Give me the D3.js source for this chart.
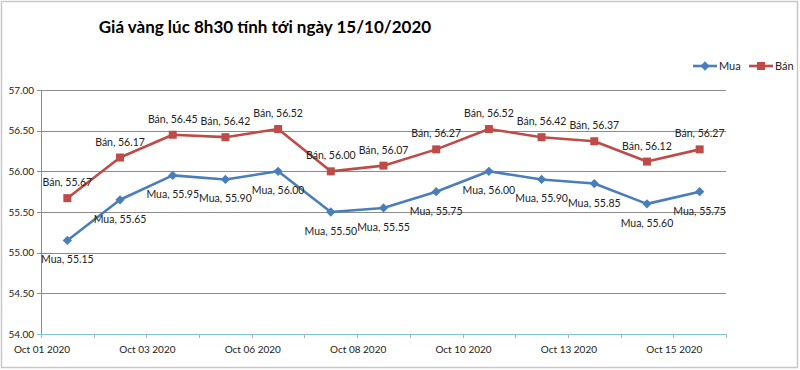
<!DOCTYPE html>
<html>
<head>
<meta charset="utf-8">
<script src="https://cdn.jsdelivr.net/npm/d3@7"></script>
<style>
	body { margin: 0; background: #fff; }
	text { font-family: Lato, "Open Sans", sans-serif; fill: #222; }
</style>
</head>
<body>
<svg class="svgWrapper" width="800" height="370"></svg>
<script>

// data
const dates = ['Oct 01 2020', 'Oct 02 2020', 'Oct 03 2020', 'Oct 05 2020', 'Oct 06 2020', 'Oct 07 2020',
	'Oct 08 2020', 'Oct 09 2020', 'Oct 10 2020', 'Oct 12 2020', 'Oct 13 2020', 'Oct 14 2020', 'Oct 15 2020'];
const muaVals = [55.15, 55.65, 55.95, 55.90, 56.00, 55.50, 55.55, 55.75, 56.00, 55.90, 55.85, 55.60, 55.75];
const banVals = [55.67, 56.17, 56.45, 56.42, 56.52, 56.00, 56.07, 56.27, 56.52, 56.42, 56.37, 56.12, 56.27];
const yTicks = [54, 54.5, 55, 55.5, 56, 56.5, 57];
const xLabelIdx = [0, 2, 4, 6, 8, 10, 12];
const seriesNames = ['Mua', 'Bán'];
const seriesColors = ['#4a7ebb', '#be4b48'];

const svgObj = d3.select('.svgWrapper');

const plotLeft = 41, plotRight = 726, plotTop = 90, plotBottom = 334;

const xScale = d3.scaleBand().domain(dates).range([plotLeft, plotRight]);
const yScale = d3.scaleLinear().domain([54, 57]).range([plotBottom, plotTop]);
const xMid = d => xScale(d) + xScale.bandwidth() / 2;

// frame
svgObj.append('rect')
	.attr('x', 1.5).attr('y', 1.5).attr('width', 796).attr('height', 366)
	.attr('fill', '#fff').attr('stroke', '#c8c8c8').attr('stroke-width', 1.5);

// title
svgObj.append('text')
	.attr('x', 265).attr('y', 33)
	.attr('text-anchor', 'middle')
	.attr('font-size', 17).attr('font-weight', 'bold')
	.style('fill', '#000')
	.text('Giá vàng lúc 8h30 tính tới ngày 15/10/2020');

// gridlines + y labels
const yAxisG = svgObj.append('g')
yAxisG.selectAll('line.grid').data(yTicks.filter(d => d > 54)).enter()
	.append('line')
	.attr('class', 'grid')
	.attr('x1', plotLeft - 4).attr('x2', plotRight)
	.attr('y1', d => Math.round(yScale(d)) + 0.5).attr('y2', d => Math.round(yScale(d)) + 0.5)
	.attr('stroke', '#8c8c8c').attr('stroke-width', 1);

yAxisG.selectAll('text').data(yTicks).enter()
	.append('text')
	.attr('x', 34).attr('y', d => yScale(d) + 3.5)
	.attr('text-anchor', 'end')
	.attr('font-size', 10)
	.text(d => d.toFixed(2));

// y axis line
svgObj.append('line')
	.attr('x1', plotLeft + 0.5).attr('x2', plotLeft + 0.5)
	.attr('y1', plotTop).attr('y2', plotBottom)
	.attr('stroke', '#8c8c8c');

// x axis (teal line, ticks between categories)
const xAxisG = svgObj.append('g');
xAxisG.append('line')
	.attr('x1', plotLeft - 4).attr('x2', plotRight)
	.attr('y1', plotBottom + 0.5).attr('y2', plotBottom + 0.5)
	.attr('stroke', '#7fc8cf').attr('stroke-width', 1);

const tickPos = dates.map(d => xScale(d)).concat([plotRight]);
xAxisG.selectAll('line.tick').data(tickPos).enter()
	.append('line')
	.attr('class', 'tick')
	.attr('x1', d => Math.round(d) + 0.5).attr('x2', d => Math.round(d) + 0.5)
	.attr('y1', plotBottom).attr('y2', plotBottom + 4)
	.attr('stroke', '#b0b0b0');

xAxisG.selectAll('text').data(xLabelIdx).enter()
	.append('text')
	.attr('x', i => xScale(dates[i]) + 1)
	.attr('y', 353)
	.attr('text-anchor', 'middle')
	.attr('font-size', 10)
	.text(i => dates[i]);

// lines
const lineGen = d3.line()
	.x((d, i) => xMid(dates[i]))
	.y(d => yScale(d));

const allSeries = [muaVals, banVals];
allSeries.forEach((vals, s) => {
	svgObj.append('path')
		.datum(vals)
		.attr('d', lineGen)
		.attr('fill', 'none')
		.attr('stroke', seriesColors[s])
		.attr('stroke-width', 2.6)
		.attr('stroke-linejoin', 'round');
});

// markers
const diamond = d3.symbol().type(d3.symbolDiamond2).size(55);
svgObj.append('g').selectAll('path').data(muaVals).enter()
	.append('path')
	.attr('d', diamond)
	.attr('transform', (d, i) => `translate(${xMid(dates[i])},${yScale(d)})`)
	.attr('fill', seriesColors[0]);

svgObj.append('g').selectAll('rect').data(banVals).enter()
	.append('rect')
	.attr('x', (d, i) => xMid(dates[i]) - 4)
	.attr('y', d => yScale(d) - 4)
	.attr('width', 8).attr('height', 8)
	.attr('fill', seriesColors[1]);

// data labels
svgObj.append('g').selectAll('text').data(banVals).enter()
	.append('text')
	.attr('x', (d, i) => xMid(dates[i]))
	.attr('y', d => yScale(d) - 12)
	.attr('text-anchor', 'middle')
	.attr('font-size', 10.5)
	.text(d => seriesNames[1] + ', ' + d.toFixed(2));

svgObj.append('g').selectAll('text').data(muaVals).enter()
	.append('text')
	.attr('x', (d, i) => xMid(dates[i]))
	.attr('y', d => yScale(d) + 23)
	.attr('text-anchor', 'middle')
	.attr('font-size', 10.5)
	.text(d => seriesNames[0] + ', ' + d.toFixed(2));

// legend
const legendG = svgObj.append('g').attr('transform', 'translate(693,66)');
const legendX = [0, 56];
seriesNames.forEach((name, s) => {
	const g = legendG.append('g').attr('transform', `translate(${legendX[s]},0)`);
	g.append('line').attr('x1', 0).attr('x2', 24).attr('y1', 0).attr('y2', 0)
		.attr('stroke', seriesColors[s]).attr('stroke-width', 2.6);
	if (s === 0) {
		g.append('path').attr('d', diamond).attr('transform', 'translate(12,0)').attr('fill', seriesColors[s]);
	} else {
		g.append('rect').attr('x', 8).attr('y', -4).attr('width', 8).attr('height', 8).attr('fill', seriesColors[s]);
	}
	g.append('text').attr('x', 26).attr('y', 4).attr('font-size', 11).text(name);
});

</script>
</body>
</html>
